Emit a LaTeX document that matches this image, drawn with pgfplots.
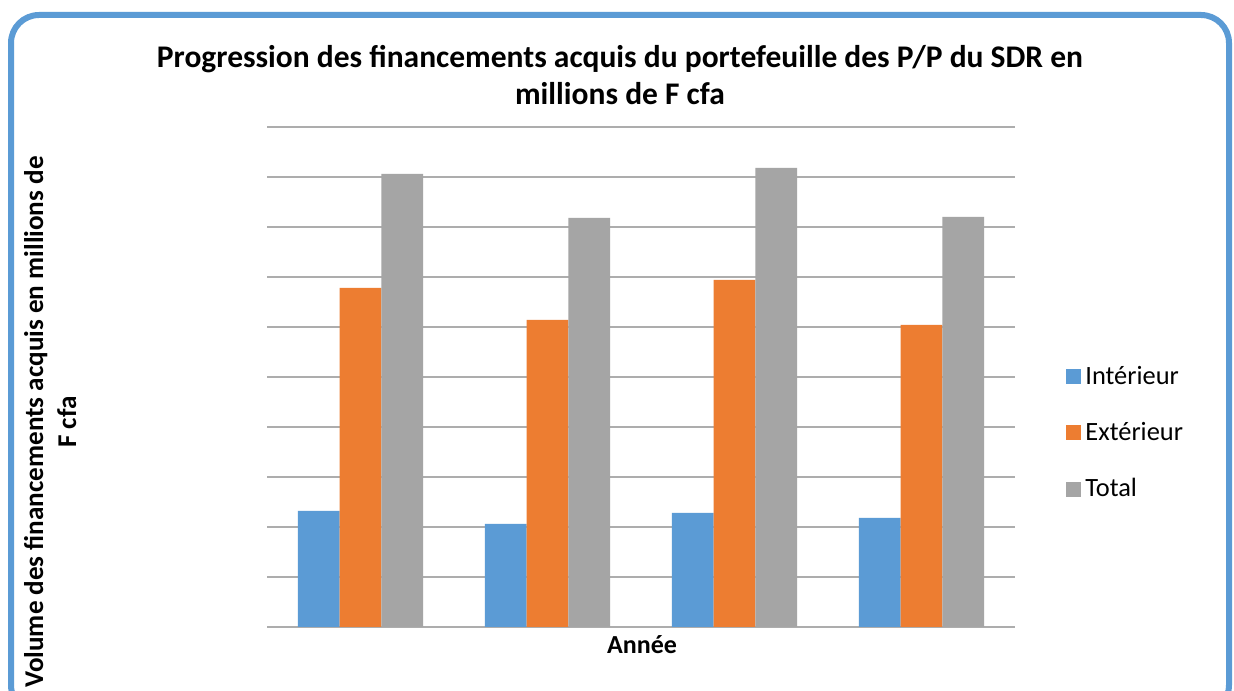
\documentclass[border=0pt]{standalone}
\usepackage{pgfplots}
\pgfplotsset{compat=1.18}
\usepackage{fontspec}
\setmainfont{Carlito}
\definecolor{cblue}{HTML}{5B9BD5}
\definecolor{corange}{HTML}{ED7D31}
\definecolor{cgray}{HTML}{A5A5A5}
\definecolor{gridc}{HTML}{ADADAD}
\begin{document}
\begin{tikzpicture}
\useasboundingbox (0,0) rectangle (617bp,345.5bp);
\clip (0,0) rectangle (617bp,345.5bp);
\fill[white] (0,0) rectangle (617bp,345.5bp);
\draw[line width=3bp, cblue, rounded corners=14bp] (5.5bp,-11bp) rectangle (614.5bp,338bp);
\begin{axis}[
  at={(133.5bp,32bp)}, anchor=south west,
  width=374bp, height=250bp, scale only axis,
  xmin=-0.5, xmax=3.5, ymin=0, ymax=100,
  ytick={0,10,...,100}, xtick={0,1,2,3},
  yticklabels={}, xticklabels={},
  ymajorgrids, grid style={draw=gridc, line width=0.8bp},
  axis line style={draw=none}, tick style={draw=none},
  ybar=0pt, bar width=20.85bp,
  legend style={draw=none, fill=none, at={(1.0602,0.388)}, anchor=west,
    font=\fontsize{13.2bp}{15.5bp}\selectfont, row sep=13.5bp,
    legend cell align=left,
    /tikz/every even column/.append style={column sep=0bp}},
  legend image code/.code={\fill[#1] (0bp,-3.75bp) rectangle (7.5bp,3.75bp);},
]
\addplot[fill=cblue, draw=none] coordinates {(0,23.2) (1,20.6) (2,22.8) (3,21.8)};
\addplot[fill=corange, draw=none] coordinates {(0,67.8) (1,61.4) (2,69.4) (3,60.4)};
\addplot[fill=cgray, draw=none] coordinates {(0,90.6) (1,81.8) (2,91.8) (3,82.0)};
\legend{Intérieur, Extérieur, Total}
\end{axis}
\node[anchor=base, font=\fontsize{15.75bp}{19bp}\selectfont\bfseries] at (310bp,311.5bp) {Progression des financements acquis du portefeuille des P/P du SDR en};
\node[anchor=base, font=\fontsize{15.75bp}{19bp}\selectfont\bfseries] at (310bp,293bp) {millions de F cfa};
\node[anchor=base, font=\fontsize{13bp}{16bp}\selectfont\bfseries] at (321bp,19bp) {Année};
\node[anchor=base, rotate=90, font=\fontsize{13.56bp}{16bp}\selectfont\bfseries] at (21.5bp,134.5bp) {Volume des financements acquis en millions de};
\node[anchor=base, rotate=90, font=\fontsize{13.56bp}{16bp}\selectfont\bfseries] at (38bp,134.5bp) {F cfa};
\end{tikzpicture}
\end{document}
